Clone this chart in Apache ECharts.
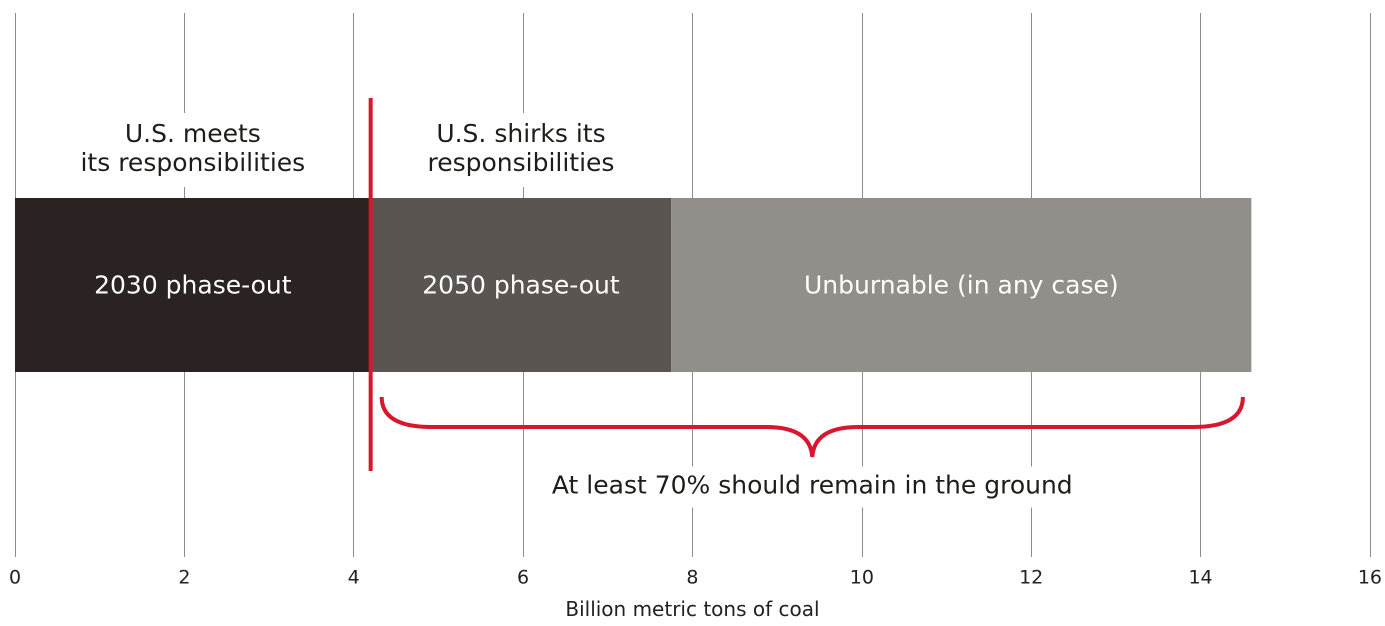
<!DOCTYPE html>
<html>
<head>
<meta charset="utf-8">
<script src="https://cdn.jsdelivr.net/npm/echarts@6/dist/echarts.min.js"></script>
<style>
  html, body { margin: 0; padding: 0; background: #ffffff; overflow: hidden; }
  #chart { width: 1385px; height: 626px; transform-origin: 0 0; }
</style>
</head>
<body>
<div id="chart"></div>
<script>
// ---- data ----
const categories = ['2030 phase-out', '2050 phase-out', 'Unburnable (in any case)'];
const segmentValues = [4.2, 3.55, 6.85];           // billion metric tons of coal
const scenarioLabels = ['U.S. meets\nits responsibilities', 'U.S. shirks its\nresponsibilities'];
const usLineValue = 4.2;                            // red divider
const braceRange = [4.33, 14.5];                    // bracket extent
const braceLabel = 'At least 70% should remain in the ground';
const axisMin = 0, axisMax = 16, axisInterval = 2;
const axisTitle = 'Billion metric tons of coal';

// ---- styles ----
const FONT = 'DejaVu Sans';
const segColors = ['#2b2321', '#5a5551', '#928e8a'];
const RED = '#d8172f';

// fit the 1385x626 design to the actual viewport
const dom = document.getElementById('chart');
const vw = window.innerWidth || 1385, vh = window.innerHeight || 626;
const sx = vw / 1385, sy = vh / 626;
if (Math.abs(sx - 1) > 0.001 || Math.abs(sy - 1) > 0.001) {
  dom.style.transform = 'scale(' + sx + ',' + sy + ')';
}

const chart = echarts.init(dom, null, { renderer: 'canvas', width: 1385, height: 626, devicePixelRatio: 2 });

// stacked segment starts
const starts = [];
let acc = 0;
segmentValues.forEach(v => { starts.push(acc); acc += v; });
const scenarioMids = [segmentValues[0] / 2, starts[1] + segmentValues[1] / 2];

const barSeries = categories.map((name, i) => ({
  name: name,
  type: 'bar',
  stack: 'coal',
  barWidth: 174,
  itemStyle: { color: segColors[i] },
  label: {
    show: true,
    position: 'inside',
    formatter: name,
    color: '#ffffff',
    fontFamily: FONT,
    fontSize: 25,
    offset: [0, 2]
  },
  data: [segmentValues[i]],
  z: 2
}));

const option = {
  animation: false,
  backgroundColor: '#ffffff',
  grid: { left: 15, right: 10, top: 13, bottom: 63, containLabel: false },
  xAxis: {
    type: 'value',
    min: axisMin,
    max: axisMax,
    interval: axisInterval,
    axisLine: { show: false },
    axisTick: { show: false },
    axisLabel: { color: '#222', fontFamily: FONT, fontSize: 19, margin: 12 },
    splitLine: { show: true, lineStyle: { color: '#8c8c8c', width: 1 } },
    name: axisTitle,
    nameLocation: 'middle',
    nameGap: 44,
    nameTextStyle: { color: '#222', fontFamily: FONT, fontSize: 20 }
  },
  yAxis: {
    type: 'category',
    data: ['coal'],
    show: false
  },
  series: barSeries.concat([
    {
      // red divider line
      type: 'custom',
      z: 5,
      data: [[usLineValue, 0]],
      renderItem: function (params, api) {
        const p = api.coord([api.value(0), 0]);
        return {
          type: 'line',
          shape: { x1: p[0], y1: p[1] - 187, x2: p[0], y2: p[1] + 186 },
          style: { stroke: RED, lineWidth: 4 }
        };
      }
    },
    {
      // brace
      type: 'custom',
      z: 5,
      data: [[braceRange[0], braceRange[1]]],
      renderItem: function (params, api) {
        const a = api.coord([api.value(0), 0]);
        const b = api.coord([api.value(1), 0]);
        const L = a[0], R = b[0], M = (L + R) / 2, cy = a[1];
        const yT = cy + 112, yH = cy + 142, yP = cy + 172;
        const d = 'M' + L + ' ' + yT +
          ' Q' + L + ' ' + yH + ' ' + (L + 50) + ' ' + yH +
          ' L' + (M - 46) + ' ' + yH +
          ' Q' + (M - 2) + ' ' + yH + ' ' + M + ' ' + yP +
          ' Q' + (M + 2) + ' ' + yH + ' ' + (M + 46) + ' ' + yH +
          ' L' + (R - 50) + ' ' + yH +
          ' Q' + R + ' ' + yH + ' ' + R + ' ' + yT;
        return {
          type: 'path',
          shape: { pathData: d },
          style: { stroke: RED, lineWidth: 4, fill: null }
        };
      }
    },
    {
      // scenario labels above the bar
      type: 'custom',
      z: 4,
      data: scenarioMids.map((m, i) => [m, i]),
      renderItem: function (params, api) {
        const p = api.coord([api.value(0), 0]);
        return {
          type: 'text',
          x: p[0],
          y: p[1] - 135,
          style: {
            text: scenarioLabels[params.dataIndex],
            fill: '#1d1d1b',
            fontFamily: FONT,
            fontSize: 25,
            lineHeight: 29,
            align: 'center',
            verticalAlign: 'middle',
            backgroundColor: '#ffffff',
            padding: [8, 6]
          }
        };
      }
    },
    {
      // brace label
      type: 'custom',
      z: 4,
      data: [[(braceRange[0] + braceRange[1]) / 2, 0]],
      renderItem: function (params, api) {
        const p = api.coord([api.value(0), 0]);
        return {
          type: 'text',
          x: p[0],
          y: p[1] + 202,
          style: {
            text: braceLabel,
            fill: '#1d1d1b',
            fontFamily: FONT,
            fontSize: 25,
            align: 'center',
            verticalAlign: 'middle',
            backgroundColor: '#ffffff',
            padding: [8, 6]
          }
        };
      }
    }
  ])
};

chart.setOption(option);
</script>
</body>
</html>
